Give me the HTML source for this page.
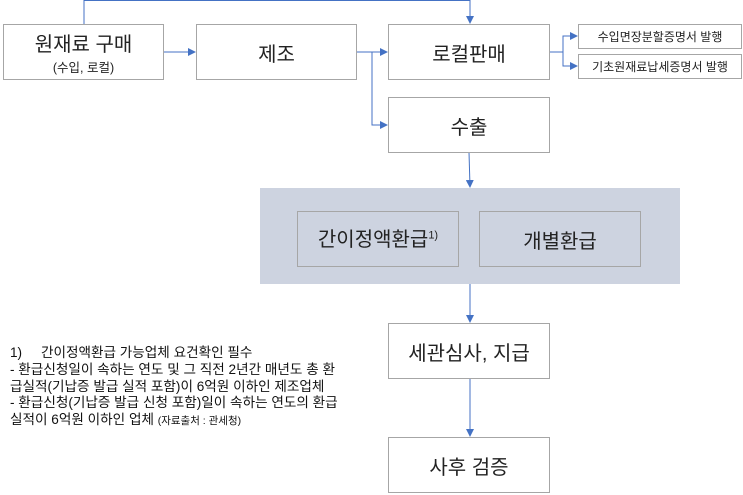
<!DOCTYPE html>
<html><head><meta charset="utf-8"><style>
body{margin:0;width:743px;height:495px;background:#fff;position:relative;overflow:hidden;font-family:"Liberation Sans","Noto Sans CJK KR",sans-serif;color:#222}
.b{position:absolute;border:1px solid #a6a6a6;background:#fff;box-sizing:border-box;display:flex;align-items:center;justify-content:center;flex-direction:column;font-size:20px}
.s{font-size:12px}
svg{position:absolute;left:0;top:0}
.n{position:absolute;left:10px;top:345px;font-size:13.6px;line-height:16.8px;color:#111;white-space:nowrap}
</style></head><body>
<svg width="743" height="495">
<defs><marker id="a" markerWidth="8" markerHeight="8" refX="7" refY="4" orient="auto" markerUnits="userSpaceOnUse"><path d="M0,0L8,4L0,8z" fill="#4472c4"/></marker></defs>
<g stroke="#4472c4" stroke-width="1" fill="none">
<path d="M84,24V0.5H470V23" marker-end="url(#a)"/>
<path d="M163,52H195" marker-end="url(#a)"/>
<path d="M356,52H387" marker-end="url(#a)"/>
<path d="M372,52V125H387" marker-end="url(#a)"/>
<path d="M549,52H563V36H577" marker-end="url(#a)"/>
<path d="M563,52V66H577" marker-end="url(#a)"/>
<path d="M469,152L470,187" marker-end="url(#a)"/>
<path d="M470,284V322" marker-end="url(#a)"/>
<path d="M470,379V436" marker-end="url(#a)"/>
</g></svg>
<div class="b" style="left:3px;top:24px;width:161px;height:56px"><div>원재료 구매</div><div style="font-size:12.5px">(수입, 로컬)</div></div>
<div class="b" style="left:196px;top:24px;width:161px;height:56px">제조</div>
<div class="b" style="left:388px;top:24px;width:162px;height:56px">로컬판매</div>
<div class="b" style="left:388px;top:97px;width:162px;height:56px">수출</div>
<div class="b s" style="left:578px;top:24px;width:164px;height:25px">수입면장분할증명서 발행</div>
<div class="b s" style="left:578px;top:54px;width:164px;height:25px">기초원재료납세증명서 발행</div>
<div style="position:absolute;left:260px;top:188px;width:420px;height:96px;background:#cdd3e0"></div>
<div class="b" style="left:297px;top:211px;width:162px;height:56px;background:#cdd3e0;display:block;line-height:56px;text-align:center">간이정액환급<sup style="font-size:11px;line-height:0">1)</sup></div>
<div class="b" style="left:479px;top:211px;width:162px;height:56px;background:#cdd3e0">개별환급</div>
<div class="b" style="left:388px;top:323px;width:162px;height:56px">세관심사, 지급</div>
<div class="b" style="left:388px;top:437px;width:162px;height:56px">사후 검증</div>
<div class="n">1)&nbsp;&nbsp;&nbsp;&nbsp;&nbsp;간이정액환급 가능업체 요건확인 필수<br>- 환급신청일이 속하는 연도 및 그 직전 2년간 매년도 총 환<br>급실적(기납증 발급 실적 포함)이 6억원 이하인 제조업체<br>- 환급신청(기납증 발급 신청 포함)일이 속하는 연도의 환급<br>실적이 6억원 이하인 업체 <span style="font-size:10.5px">(자료출처 : 관세청)</span></div>
</body></html>
